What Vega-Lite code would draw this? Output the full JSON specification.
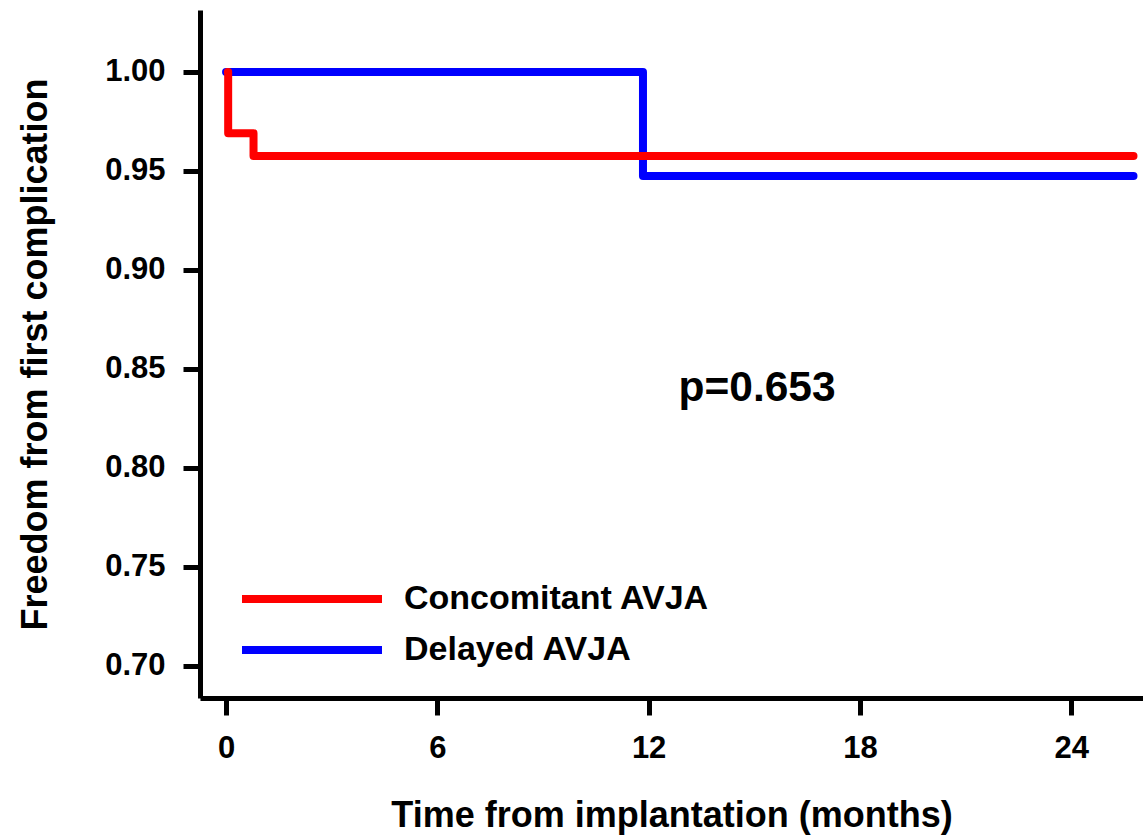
{
  "$schema": "https://vega.github.io/schema/vega-lite/v6.json",
  "width": 943,
  "height": 688,
  "autosize": {"type": "none"},
  "padding": {"left": 200, "top": 10, "right": 0, "bottom": 141},
  "background": "white",
  "config": {
    "view": {"stroke": null},
    "font": "Liberation Sans",
    "axis": {
      "domainColor": "black", "domainWidth": 5, "tickColor": "black", "tickWidth": 5, "tickSize": 17,
      "labelFont": "Liberation Sans", "labelFontWeight": "bold", "labelFontSize": 31, "labelColor": "black",
      "titleFont": "Liberation Sans", "titleFontWeight": "bold", "titleFontSize": 36, "titleColor": "black",
      "grid": false
    }
  },
  "data": {
    "values": [
      {"group": "Delayed AVJA", "time": 0, "surv": 1.0},
      {"group": "Delayed AVJA", "time": 11.84, "surv": 0.9475},
      {"group": "Delayed AVJA", "time": 25.77, "surv": 0.9475},
      {"group": "Concomitant AVJA", "time": 0.05, "surv": 1.0},
      {"group": "Concomitant AVJA", "time": 0.06, "surv": 0.969},
      {"group": "Concomitant AVJA", "time": 0.78, "surv": 0.9575},
      {"group": "Concomitant AVJA", "time": 25.77, "surv": 0.9575}
    ]
  },
  "layer": [
    {
      "mark": {"type": "line", "interpolate": "step-after", "strokeWidth": 8, "strokeCap": "round", "strokeJoin": "round"},
      "encoding": {
        "x": {
          "field": "time", "type": "quantitative",
          "scale": {"domain": [-0.74, 26.04], "nice": false, "zero": false},
          "axis": {"values": [0, 6, 12, 18, 24], "title": "Time from implantation (months)", "labelPadding": 18, "titlePadding": 35, "labelFlush": false}
        },
        "y": {
          "field": "surv", "type": "quantitative",
          "scale": {"domain": [0.6838, 1.0313], "nice": false, "zero": false},
          "axis": {"values": [0.7, 0.75, 0.8, 0.85, 0.9, 0.95, 1.0], "format": ".2f", "title": "Freedom from first complication", "labelPadding": 18, "titlePadding": 50, "labelFlush": false}
        },
        "color": {
          "field": "group", "type": "nominal",
          "scale": {"domain": ["Concomitant AVJA", "Delayed AVJA"], "range": ["#ff0000", "#0000ff"]},
          "legend": {
            "title": null, "orient": "none", "legendX": 95, "legendY": 572, "padding": 0,
            "symbolType": "M-7,0H7", "symbolSize": 400, "symbolStrokeWidth": 8,
            "labelFont": "Liberation Sans", "labelFontWeight": "bold", "labelFontSize": 34, "labelColor": "black",
            "labelOffset": 75, "rowPadding": 17, "labelLimit": 600
          }
        },
        "order": {"field": "group", "sort": "descending"}
      }
    },
    {
      "data": {"values": [{"label": "p=0.653", "time": 15.08, "surv": 0.8404}]},
      "mark": {"type": "text", "font": "Liberation Sans", "fontWeight": "bold", "fontSize": 42.5, "align": "center", "baseline": "middle", "color": "black"},
      "encoding": {
        "x": {"field": "time", "type": "quantitative"},
        "y": {"field": "surv", "type": "quantitative"},
        "text": {"field": "label"}
      }
    }
  ]
}
